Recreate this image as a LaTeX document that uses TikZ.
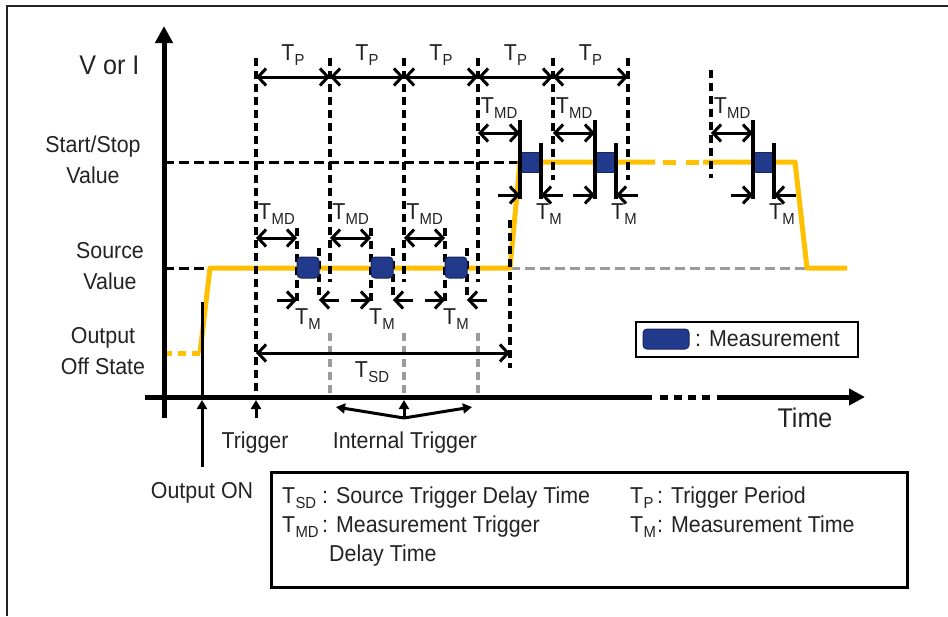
\documentclass[tikz,border=0pt]{standalone}
\usepackage{fontspec}
\setmainfont{Liberation Sans}[FakeStretch=0.93]
\usetikzlibrary{arrows.meta,positioning}
\definecolor{smuorange}{RGB}{255,192,0}
\definecolor{smublue}{RGB}{34,58,140}
\definecolor{smunavy}{RGB}{24,38,92}
\definecolor{smugray}{RGB}{155,155,155}
\definecolor{smutext}{RGB}{35,35,35}
\newcommand{\tsub}[1]{T\kern0.3pt\raisebox{-5pt}{\fontsize{16}{16}\selectfont #1}}

\begin{document}
\begin{tikzpicture}[x=1pt, y=-1pt, font=\fontsize{23}{31}\selectfont, text=smutext,
    vdash/.style={line width=3.5pt, dash pattern=on 8pt off 5pt},
    hdash/.style={line width=3pt, dash pattern=on 10pt off 5pt},
    trace/.style={smuorange, line width=5pt, line join=round},
    dbl/.style={line width=3pt, {Straight Barb[length=8pt,width=17pt]}-{Straight Barb[length=8pt,width=17pt]}},
    barb/.style={line width=3pt, -{Straight Barb[length=8pt,width=17pt]}},
    tick/.style={line width=3pt, -{Triangle[length=9pt,width=10pt]}},
    bar/.style={line width=3.5pt},
    meas/.style={fill=smublue, draw=smunavy, line width=1pt},
    lbl/.style={inner sep=0pt}]
  \useasboundingbox (0,0) rectangle (948,616);
  \draw[smutext, line width=1.5pt] (7,616) -- (7,6) -- (948,6);

  % levels
  \draw[hdash] (164,162) -- (520,162);
  \draw[hdash] (164,268) -- (210,268);
  \draw[hdash, smugray] (510,268) -- (808,268);
  \draw[trace, dash pattern=on 8pt off 6pt] (164,353) -- (200,353);

  % output waveform
  \draw[trace] (200,353) -- (210,268) -- (510,268) -- (520,162) -- (655,162);
  \draw[trace, dash pattern=on 13pt off 10pt] (663,162) -- (703,162);
  \draw[trace] (703,162) -- (795,162) -- (807,268) -- (847,268);

  % trigger lines
  \draw[vdash] (256,58) -- (256,397);
  \foreach \x in {330,404,478} {
    \draw[vdash] (\x,58) -- (\x,282);
    \draw[vdash, smugray] (\x,333) -- (\x,397);
  }
  \draw[vdash] (553,58) -- (553,180);
  \draw[vdash] (628,58) -- (628,180);
  \draw[vdash] (711,70) -- (711,178);
  \draw[vdash] (510,220) -- (510,368);

  % trigger period
  \foreach \a/\b [count=\i] in {256/330,330/404,404/478,478/553,553/628} {
    \draw[dbl] (\a,77) -- (\b,77);
    \node[lbl] (tp\i) at ({(\a+\b)/2},55) {\tsub{P}};
  }

  % measurements at start/stop value
  \foreach \d/\s [count=\i] in {478/520,553/595,711/753} {
    \draw[dbl] (\d,133) -- (\s,133);
    \node[lbl] (tmdu\i) at ({(\d+\s)/2},108) {\tsub{MD}};
    \draw[meas] (\s,152) rectangle (\s+21,172);
    \draw[bar] (\s,120) -- (\s,199);
    \draw[bar] (\s+21,143) -- (\s+21,199);
    \draw[barb] (\s-22,195) -- (\s,195);
    \draw[barb] (\s+43,195) -- (\s+21,195);
    \node[lbl] (tmu\i) at (\s+29,214) {\tsub{M}};
  }

  % measurements at source value
  \foreach \d/\s [count=\i] in {256/297,330/371,404/445} {
    \draw[dbl] (\d,238) -- (\s,238);
    \node[lbl] (tmdl\i) at ({(\d+\s)/2},214) {\tsub{MD}};
    \draw[vdash] (\s,228) -- (\s,305);
    \draw[vdash] (\s+22,248) -- (\s+22,300);
    \draw[meas, rounded corners=4pt] (\s,257) rectangle (\s+22,278);
    \draw[barb] (\s-20,300) -- (\s,300);
    \draw[barb] (\s+42,300) -- (\s+22,300);
    \node[lbl] (tml\i) at (\s+11,319) {\tsub{M}};
  }

  % source trigger delay
  \draw[dbl] (256,353) -- (510,353);
  \node[lbl] (tsd) at (372,372) {\tsub{SD}};

  % axes
  \draw[line width=5pt, -{Triangle[length=17pt,width=17pt]}] (164,418) -- (164,26);
  \draw[line width=5pt] (145,397) -- (652,397);
  \draw[line width=5pt, dash pattern=on 8pt off 6pt] (660,397) -- (712,397);
  \draw[line width=5pt, -{Triangle[length=16pt,width=16pt]}] (717,397) -- (865,397);

  \node[anchor=east, font=\fontsize{27}{31}\selectfont] (lvi) at (143,65) {V or I};
  \node[align=center] (lstart) at (93,160) {Start/Stop\\Value};
  \node[align=center] (lsource) at (110,266) {Source\\Value};
  \node[align=center] (loff) at (103,351) {Output\\Off State};
  \node[font=\fontsize{27}{31}\selectfont] (ltime) at (805,418) {Time};

  % trigger markers
  \draw[line width=3pt] (202,397) -- (202,302);
  \draw[tick] (202,467) -- (202,400);
  \draw[tick] (256,418) -- (256,400);
  \coordinate (itrig) at (404,418);
  \draw[tick] (itrig) -- (404,400);
  \draw[tick] (itrig) -- (336,407);
  \draw[tick] (itrig) -- (472,407);
  \node (ltrig) at (255,443) {Trigger};
  \node (litrig) at (405,443) {Internal Trigger};
  \node (lon) at (202,493) {Output ON};

  % legend
  \draw[line width=2.5pt] (636,322) rectangle (858,357);
  \draw[meas, rounded corners=4pt] (643,329) rectangle (689,349);
  \node[lbl, anchor=west] (lmeas) at (695,339) {: Measurement};

  % definitions
  \draw[line width=3pt] (271,472) rectangle (907,587);
  \node[lbl, anchor=base west] (ksd) at (282,503) {\tsub{SD}};
  \node[lbl, anchor=base west] (ksdtxt) at (322,503) {: Source Trigger Delay Time};
  \node[lbl, anchor=base west] (kmd) at (282,532) {\tsub{MD}};
  \node[lbl, anchor=base west] (kmdtxt) at (322,532) {: Measurement Trigger};
  \node[lbl, anchor=base west] (kmdtxt2) at (329,561) {Delay Time};
  \node[lbl, anchor=base west] (kp) at (630,503) {\tsub{P}};
  \node[lbl, anchor=base west] (kptxt) at (657,503) {: Trigger Period};
  \node[lbl, anchor=base west] (km) at (630,532) {\tsub{M}};
  \node[lbl, anchor=base west] (kmtxt) at (657,532) {: Measurement Time};
\end{tikzpicture}
\end{document}
